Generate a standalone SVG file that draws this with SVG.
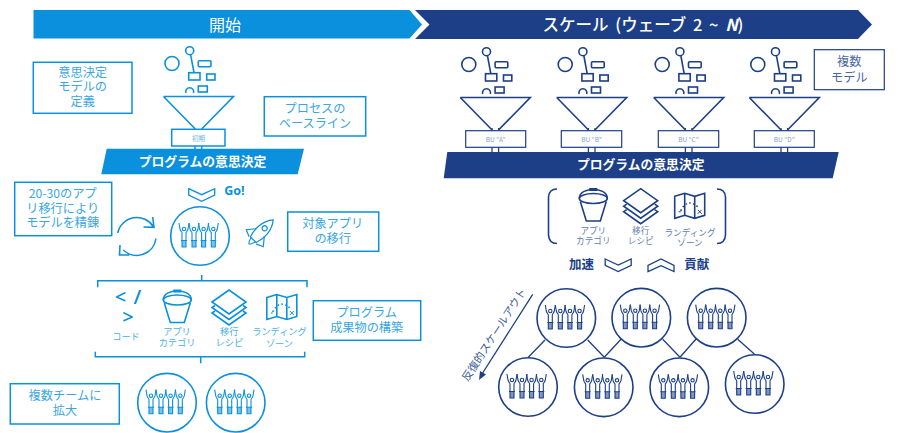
<svg xmlns="http://www.w3.org/2000/svg" width="900" height="433" viewBox="0 0 900 433">
<style>
text{font-family:"Noto Sans CJK JP","Noto Sans",sans-serif;text-anchor:middle;dominant-baseline:central}
.lb{color:#0a90dc}.db{color:#1c3f88}
.ico{fill:none;stroke:currentColor;stroke-width:1.6}
.box{fill:#fff;stroke-width:1.5;stroke:currentColor}
.lb text.t{fill:#3aa6e3;font-size:12.2px}
.db text.t{fill:#4a68a4;font-size:12.2px}
.lb text.s{fill:#4db0e6;font-size:9.2px}
.db text.s{fill:#5f7bb0;font-size:8.6px}
.lbl{fill:#7f9fcc;font-size:6.5px}
.w{fill:#fff;font-weight:700}
.bold{font-weight:700;font-size:12.5px}
.code{font-size:20px;fill:#0a90dc;font-family:"Open Sans",sans-serif;font-weight:600}
.conn{fill:none;stroke:#1c3f88;stroke-width:1.3}
.lconn{fill:none;stroke:#0a90dc;stroke-width:1.5}
</style>
<defs>
<g id="fig" class="ico" style="stroke-width:1.1">
<path d="M-5,-13L-4,-7C-3.4,-4.5 -2,-4 -2,-3V11H2V-3C2,-4 3.4,-4.5 4,-7L5,-13M-3,4.5H3"/>
<circle cy="-7" r="1.7"/>
<rect x="-2" y="4.5" width="4" height="6.5" fill="currentColor" fill-opacity=".55" stroke="none"/>
</g>
<g id="team">
<circle class="ico" r="29.3"/>
<use href="#fig" x="-16"/><use href="#fig" x="-6"/><use href="#fig" x="3.6"/><use href="#fig" x="13.3"/>
</g>
<g id="inputs" class="ico">
<circle cx="-26.5" cy="-32.5" r="7"/>
<circle cx="-8.8" cy="-45.3" r="4"/>
<path d="M-7.8,-41L-4.5,-23.3"/>
<rect x="-9.8" y="-23.3" width="11.3" height="7.3"/>
<rect x="-.2" y="-35.3" width="12.7" height="6" rx="1"/>
<rect x="8.2" y="-22" width="8.3" height="6"/>
<path d="M-12.6,-3A4,4 0 1 1 -5,-3"/>
<rect x="-.2" y="-10" width="9" height="6"/>
</g>
<path id="funnel" class="ico" d="M-35,0.5H35L3.2,33M-35,0.5L-3.2,33"/>
<path id="chev" class="ico" d="M-13,-6.3L0,-.3L13,-6.3V0L0,6.3L-13,0Z" style="stroke-width:1.3"/>
<g id="bucket" class="ico">
<ellipse rx="14" ry="5"/>
<path d="M-14,0C-14,-7 -6,-9 0,-9C6,-9 14,-7 14,0M-13,3L-7,22.5H7L13,3"/>
<rect x="-4" y="-10.5" width="8" height="3" fill="currentColor" stroke="none"/>
</g>
<g id="layers" class="ico">
<path d="M-17,0L0,-12L17,0L0,12Z"/>
<path d="M-14,3.5L-17,5.5L0,17.5L17,5.5L14,3.5M-14,9L-17,11L0,23L17,11L14,9"/>
</g>
<g id="map" class="ico">
<path d="M-15,-9.5L-5,-12.5L5,-9.5L15,-12.5V9.5L5,12.5L-5,9.5L-15,12.5ZM-5,-12.5V9.5M5,-9.5V12.5"/>
<path d="M-9,5Q-2,-9 9,2" stroke-dasharray="1.5 2.5"/>
<path d="M8,4L12,8M12,4L8,8M-11,6h2" style="stroke-width:1"/>
</g>
</defs>

<g id="connectors">
<g class="lb">
<path class="lconn" d="M201.7,275V280.7M97.7,287.3V280.7H307V287.3"/>
<path class="lconn" d="M95.3,351.7V356.7H304.7V351.7M200.7,356.7V363.3"/>
<path class="lconn" d="M195,129.3V150M201.7,129.3V150"/>
</g>
<path class="conn" d="M545,340L528.3,357.3M587.7,340L604.3,357.3M621,339.3L604.3,357.3M662.7,339.3L680,357.3M696.7,338.3L680,357.3M737.7,339.3L754.3,354"/>
<path class="conn" d="M492,128V152M498.6,128V152M588.4,128V152M595,128V152M685.4,128V152M692,128V152M781,128V152M787.6,128V152"/>
<path class="conn" d="M532.7,294.3L482,374"/>
<path d="M479,380L480,371L486,374.5Z" fill="#1c3f88"/>
</g>

<g id="banner-start">
<path d="M33.5,10H409.5L422,24.5L409.5,38.5H33.5Z" fill="#0a90dc"/>
<text x="225" y="24" class="w" style="font-size:16px;font-weight:400">開始</text>
</g>
<g id="banner-scale">
<path d="M415,10H858L872,24.5L858,39H415L429.5,24.5Z" fill="#1c3f88"/>
<text x="643" y="24" class="w" style="font-size:16.5px;word-spacing:3px;font-weight:500">スケール (ウェーブ 2 ~ <tspan font-style="italic" font-weight="700">N</tspan>)</text>
</g>

<g id="box-model" class="lb"><rect class="box" x="33.3" y="62.3" width="98.7" height="51"/>
<text class="t"><tspan x="82.7" y="71.5">意思決定</tspan><tspan x="82.7" y="86">モデルの</tspan><tspan x="82.7" y="100.7">定義</tspan></text></g>

<g id="funnel-initial" class="lb">
<use href="#inputs" x="198.5" y="96"/><use href="#funnel" x="198.5" y="96"/>
<rect class="box" x="171.7" y="129.3" width="53.3" height="16.7"/>
<text x="198.5" y="137.5" style="font-size:6.5px;fill:#6ab8e8">初期</text>
</g>

<g id="box-baseline" class="lb"><rect class="box" x="264.3" y="96.7" width="101.4" height="39.3"/>
<text class="t"><tspan x="315" y="107.7">プロセスの</tspan><tspan x="315" y="122.7">ベースライン</tspan></text></g>

<g id="ribbon-left">
<path d="M106.7,148.7H304L297.7,174.3H101.3Z" fill="#0a90dc"/>
<text x="202.5" y="160.5" class="w" style="font-size:12.8px">プログラムの意思決定</text>
</g>

<g id="box-refine" class="lb"><rect class="box" x="14.7" y="182.3" width="97" height="53.4"/>
<text class="t"><tspan x="62.7" y="192.7">20-30のアプ</tspan><tspan x="62.7" y="207.7">リ移行により</tspan><tspan x="62.7" y="222">モデルを精錬</tspan></text></g>

<g id="go" class="lb">
<use href="#chev" x="201.7" y="195"/>
<text x="234.5" y="190.5" class="bold" style="fill:#0a90dc;font-family:'Open Sans',sans-serif">Go!</text>
</g>

<g id="refresh" class="lb">
<path class="ico" d="M117.7,233A19.5,19.5 0 0 1 153.5,227M152.7,217L154,227.3L143.5,227M156,238.5A19.5,19.5 0 0 1 123.3,250M120,245L119.5,255L129.3,255"/>
</g>

<g id="team-main" class="lb"><use href="#team" x="200" y="236"/></g>

<g id="rocket" class="lb">
<g class="ico" transform="translate(259,234) rotate(45)" style="stroke-width:1.2">
<path d="M0,-20C7,-12 7,0 4,8H-4C-7,0 -7,-12 0,-20Z"/>
<circle cy="-8" r="2.6"/>
<path d="M-5.5,-2L-12,6L-5,9M5.5,-2L12,6L5,9M-3,8Q0,20 3,8"/>
</g>
</g>

<g id="box-target" class="lb"><rect class="box" x="287.7" y="212" width="91" height="39.3"/>
<text class="t"><tspan x="332.7" y="223.3">対象アプリ</tspan><tspan x="332.7" y="237.7">の移行</tspan></text></g>

<g id="code" class="lb">
<text class="code"><tspan x="120.5" y="296">&lt;</tspan><tspan x="137.5" y="296">/</tspan><tspan x="128" y="316">&gt;</tspan></text>
<text class="s" x="126" y="336">コード</text>
</g>
<g id="bucket-left" class="lb"><use href="#bucket" x="177.3" y="300"/>
<text class="s"><tspan x="177" y="330.7">アプリ</tspan><tspan x="177" y="341.7">カテゴリ</tspan></text></g>
<g id="layers-left" class="lb"><use href="#layers" x="229" y="302"/>
<text class="s"><tspan x="229.3" y="330.7">移行</tspan><tspan x="229.3" y="341.7">レシピ</tspan></text></g>
<g id="map-left" class="lb"><use href="#map" x="281.8" y="307"/>
<text class="s"><tspan x="279.5" y="331">ランディング</tspan><tspan x="279.5" y="342.7">ゾーン</tspan></text></g>

<g id="box-artifacts" class="lb"><rect class="box" x="313.3" y="300.7" width="107.4" height="39.6"/>
<text class="t"><tspan x="366.7" y="311.7">プログラム</tspan><tspan x="366.7" y="326.7">成果物の構築</tspan></text></g>

<g id="box-expand" class="lb"><rect class="box" x="10.3" y="383.7" width="109" height="40.3"/>
<text class="t"><tspan x="65" y="395.3">複数チームに</tspan><tspan x="65" y="410">拡大</tspan></text></g>
<g id="team-l1" class="lb"><use href="#team" x="167" y="402.7"/></g>
<g id="team-l2" class="lb"><use href="#team" x="235.7" y="402.7"/></g>

<g id="funnel-a" class="db"><use href="#inputs" x="495.3" y="97"/><use href="#funnel" x="495.3" y="97"/>
<rect class="box" style="stroke-width:1.2" x="465.7" y="130.7" width="60" height="16.6"/><text class="lbl" x="495.7" y="138.7">BU “A”</text></g>
<g id="funnel-b" class="db"><use href="#inputs" x="591.7" y="97"/><use href="#funnel" x="591.7" y="97"/>
<rect class="box" style="stroke-width:1.2" x="561.3" y="130.7" width="60.4" height="16.6"/><text class="lbl" x="591.5" y="138.7">BU “B”</text></g>
<g id="funnel-c" class="db"><use href="#inputs" x="688.7" y="97"/><use href="#funnel" x="688.7" y="97"/>
<rect class="box" style="stroke-width:1.2" x="658.3" y="130.7" width="60.4" height="16.6"/><text class="lbl" x="688.5" y="138.7">BU “C”</text></g>
<g id="funnel-d" class="db"><use href="#inputs" x="784.3" y="97"/><use href="#funnel" x="784.3" y="97"/>
<rect class="box" style="stroke-width:1.2" x="754.3" y="130.7" width="60" height="16.6"/><text class="lbl" x="784.3" y="138.7">BU “D”</text></g>

<g id="box-multi" class="db"><rect class="box" style="stroke-width:1.2" x="814.3" y="49.7" width="70" height="40"/>
<text class="t"><tspan x="849.3" y="61">複数</tspan><tspan x="849.3" y="76.5">モデル</tspan></text></g>

<g id="ribbon-right">
<path d="M447.3,152H838.7L832.7,178.3H443.7Z" fill="#1c3f88"/>
<text x="640.7" y="163.7" class="w" style="font-size:12.8px">プログラムの意思決定</text>
</g>

<g id="assets" class="db">
<path class="ico" d="M557,189Q549,189 548.5,197V235Q549,243.5 557,243.5M717,189Q725,189 725.5,197V235Q725,243.5 717,243.5"/>
<use href="#bucket" x="593.3" y="198.5"/>
<text class="s"><tspan x="593.3" y="230">アプリ</tspan><tspan x="593.3" y="240">カテゴリ</tspan></text>
<use href="#layers" x="640.7" y="200.7"/>
<text class="s"><tspan x="640.7" y="230">移行</tspan><tspan x="640.7" y="240">レシピ</tspan></text>
<use href="#map" x="689.7" y="205.8"/>
<text class="s"><tspan x="690" y="231.7">ランディング</tspan><tspan x="690" y="242.3">ゾーン</tspan></text>
</g>

<g id="accelerate" class="db">
<text x="581.5" y="263.5" class="bold" style="fill:#1c3f88">加速</text>
<use href="#chev" x="618.2" y="265.3"/>
</g>
<g id="contribute" class="db">
<use href="#chev" transform="translate(661,265.3) scale(1,-1)"/>
<text x="696.7" y="263.5" class="bold" style="fill:#1c3f88">貢献</text>
</g>

<text x="493" y="334" transform="rotate(-57 493 334)" style="font-size:10.8px;fill:#3b5c9c">反復的スケールアウト</text>

<g id="team-r1" class="db"><use href="#team" x="566.3" y="318"/></g>
<g id="team-r2" class="db"><use href="#team" x="641.3" y="317.7"/></g>
<g id="team-r3" class="db"><use href="#team" x="716.7" y="317.7"/></g>
<g id="team-r4" class="db"><use href="#team" x="528" y="387"/></g>
<g id="team-r5" class="db"><use href="#team" x="603.7" y="387.3"/></g>
<g id="team-r6" class="db"><use href="#team" x="679.3" y="387.3"/></g>
<g id="team-r7" class="db"><use href="#team" x="754.7" y="384"/></g>
</svg>
